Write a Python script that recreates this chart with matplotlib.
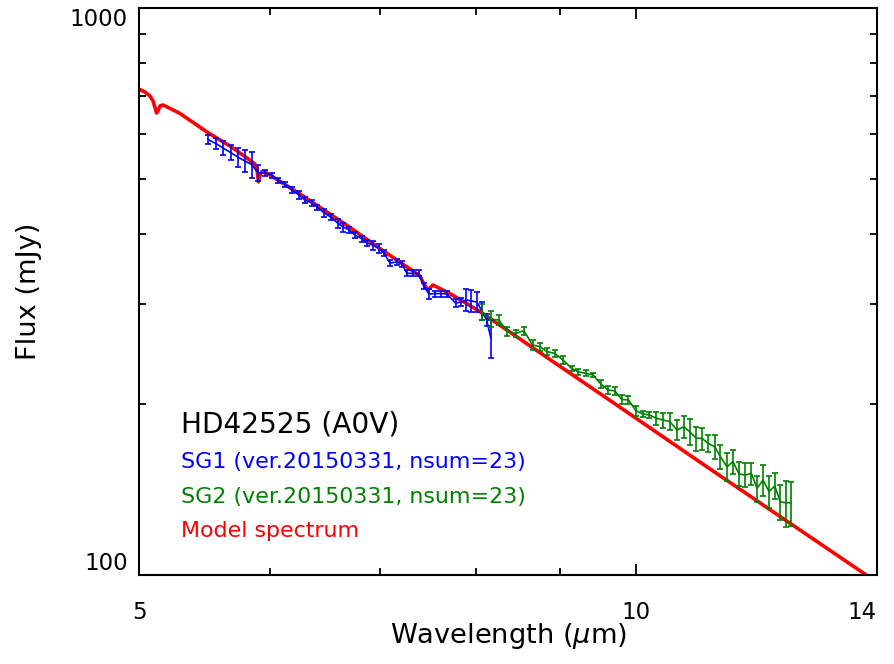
import matplotlib
matplotlib.use("Agg")
import matplotlib.pyplot as plt

# ---------------- data ----------------
model_wave = [5.000, 5.042, 5.077, 5.099, 5.124, 5.134, 5.149, 5.170, 5.294, 5.497,
              5.683, 5.813, 5.878, 5.895, 5.907, 5.920, 5.936, 5.959, 6.259, 6.712,
              6.997, 7.328, 7.399, 7.440, 7.482, 7.534, 7.716, 8.045, 8.871, 9.510,
              10.00, 10.935, 12.23, 13.82]
model_flux = [719.5, 710.9, 699.5, 685.5, 653.0, 658.4, 671.9, 674.6, 651.7, 604.4,
              569.7, 543.9, 530.7, 517.9, 493.5, 507.5, 515.0, 514.0, 469.9, 410.1,
              376.5, 343.7, 336.8, 326.1, 318.2, 324.6, 313.6, 291.5, 239.9, 209.0,
              189.1, 158.2, 126.8, 99.6]

sg1_wave = [5.505, 5.566, 5.622, 5.682, 5.738, 5.797, 5.851, 5.905, 5.961, 6.017,
            6.074, 6.129, 6.190, 6.250, 6.303, 6.362, 6.412, 6.475, 6.533, 6.597,
            6.648, 6.704, 6.758, 6.821, 6.869, 6.932, 6.987, 7.036, 7.096, 7.165,
            7.212, 7.266, 7.327, 7.389, 7.440, 7.493, 7.556, 7.619, 7.683, 7.777,
            7.834, 7.895, 7.950, 8.011, 8.067, 8.120, 8.169]
sg1_flux = [586.3, 576.8, 566.4, 556.1, 546.1, 537.3, 529.7, 511.7, 511.7, 507.5,
            497.3, 489.3, 477.5, 467.9, 458.5, 452.9, 445.6, 434.9, 427.9, 417.6,
            410.9, 405.9, 397.7, 392.1, 385.0, 381.9, 376.5, 369.7, 355.0, 356.5,
            354.3, 340.5, 340.3, 340.3, 323.3, 313.0, 313.6, 313.6, 313.0, 301.8,
            303.0, 305.5, 304.3, 303.0, 292.1, 281.7, 261.8]
sg1_err = [10.7, 12.9, 16.1, 16.9, 21.1, 24.0, 28.0, 16.6, 5.2, 5.2,
           5.0, 5.0, 5.8, 7.6, 5.6, 5.5, 4.5, 7.1, 5.2, 7.6,
           7.5, 4.9, 4.8, 4.8, 4.7, 7.0, 6.9, 4.5, 4.3, 4.3,
           4.3, 4.1, 4.1, 4.1, 3.9, 6.4, 3.8, 3.8, 3.8, 4.9,
           4.9, 13.6, 13.6, 12.3, 10.7, 6.9, 20.2]

sg2_wave = [8.064, 8.166, 8.261, 8.357, 8.459, 8.554, 8.658, 8.747, 8.836, 8.931,
            9.035, 9.142, 9.226, 9.326, 9.421, 9.523, 9.620, 9.711, 9.806, 9.898,
            10.003, 10.102, 10.192, 10.292, 10.388, 10.485, 10.592, 10.692, 10.781, 10.882,
            10.968, 11.060, 11.164, 11.253, 11.357, 11.452, 11.549, 11.652, 11.750, 11.842,
            11.942, 12.042, 12.138, 12.235, 12.325, 12.412]
sg2_flux = [291.3, 282.5, 281.7, 268.6, 266.9, 269.7, 254.5, 252.8, 247.7, 246.0,
            239.4, 231.5, 228.3, 226.8, 225.3, 217.2, 212.0, 211.2, 204.0, 203.6,
            194.7, 192.3, 191.5, 189.0, 187.7, 186.4, 180.2, 182.6, 178.9, 174.2,
            174.2, 170.7, 168.3, 161.6, 155.2, 158.4, 150.7, 150.1, 151.1, 142.2,
            147.1, 140.3, 143.5, 134.6, 134.1, 134.1]
sg2_err = [9.5, 9.2, 5.7, 5.1, 4.0, 4.2, 5.2, 4.1, 3.3, 3.7,
           3.6, 2.6, 2.6, 2.8, 2.1, 3.7, 3.2, 3.3, 3.7, 3.1,
           3.6, 2.3, 2.6, 5.1, 5.7, 6.3, 7.3, 8.2, 9.4, 8.5,
           7.8, 6.2, 8.2, 7.9, 8.8, 7.7, 7.3, 7.3, 6.7, 7.5,
           9.0, 9.1, 7.6, 9.8, 12.5, 12.0]

x_ticks = [5, 10, 14]
x_tick_labels = ["5", "10", "14"]
x_minor = [6, 7, 8, 9]
y_ticks = [100, 1000]
y_tick_labels = ["100", "1000"]
y_minor = [200, 300, 400, 500, 600, 700, 800, 900]

title_text = "HD42525 (A0V)"
sg1_text = "SG1 (ver.20150331, nsum=23)"
sg2_text = "SG2 (ver.20150331, nsum=23)"
model_text = "Model spectrum"

BLUE = "#0000ff"
GREEN = "#008000"
RED = "#ff0000"

plt.rcParams['font.family'] = ['DejaVu Sans']

fig = plt.figure(figsize=(8.94, 6.64), dpi=100)
ax = fig.add_axes([139/894, 89/664, 738/894, 567/664])

ax.plot(model_wave, model_flux, color=RED, lw=2.6, solid_joinstyle='round', zorder=2)
ax.errorbar(sg1_wave, sg1_flux, yerr=sg1_err, color=BLUE, lw=1.2, elinewidth=1.2,
            capsize=2.0, capthick=1.2, zorder=3)
ax.errorbar(sg2_wave, sg2_flux, yerr=sg2_err, color=GREEN, lw=1.2, elinewidth=1.2,
            capsize=2.0, capthick=1.2, zorder=4)

ax.set_xscale('log')
ax.set_yscale('log')
ax.set_xlim(5, 14)
ax.set_ylim(100, 1000)

ax.set_xticks(x_ticks)
ax.set_xticklabels(x_tick_labels)
ax.set_xticks(x_minor, minor=True)
ax.set_xticklabels([], minor=True)
ax.set_yticks(y_ticks)
ax.set_yticklabels(y_tick_labels)
ax.set_yticks(y_minor, minor=True)
ax.set_yticklabels([], minor=True)

ax.tick_params(which='both', direction='in', top=True, right=True, width=1.3, color='black')
ax.tick_params(which='major', length=8)
ax.tick_params(which='minor', length=5)
ax.tick_params(axis='x', which='major', labelsize=16.5, pad=19)
ax.tick_params(axis='y', which='major', labelsize=16.5, pad=8)

for sp in ax.spines.values():
    sp.set_linewidth(1.5)

# IDL style end-label alignment
ylabs = ax.get_yticklabels()
ylabs[0].set_va('bottom')
ylabs[1].set_va('top')
xlabs = ax.get_xticklabels()
xlabs[2].set_ha('right')

ax.set_xlabel(r"Wavelength ($\mu$m)", fontsize=19.6)
ax.xaxis.set_label_coords(0.5, -0.081)
ax.set_ylabel("Flux (mJy)", fontsize=19.6)
ax.yaxis.set_label_coords(-0.131, 0.5)

tx = (181 - 139) / 738
ax.text(tx, 0.2522, title_text, transform=ax.transAxes, fontsize=20.2, color='black', va='baseline')
ax.text(tx, 0.1887, sg1_text, transform=ax.transAxes, fontsize=15.9, color=BLUE, va='baseline')
ax.text(tx, 0.1270, sg2_text, transform=ax.transAxes, fontsize=15.9, color=GREEN, va='baseline')
ax.text(tx, 0.0670, model_text, transform=ax.transAxes, fontsize=15.9, color=RED, va='baseline')

fig.savefig("out.png", dpi=100)
